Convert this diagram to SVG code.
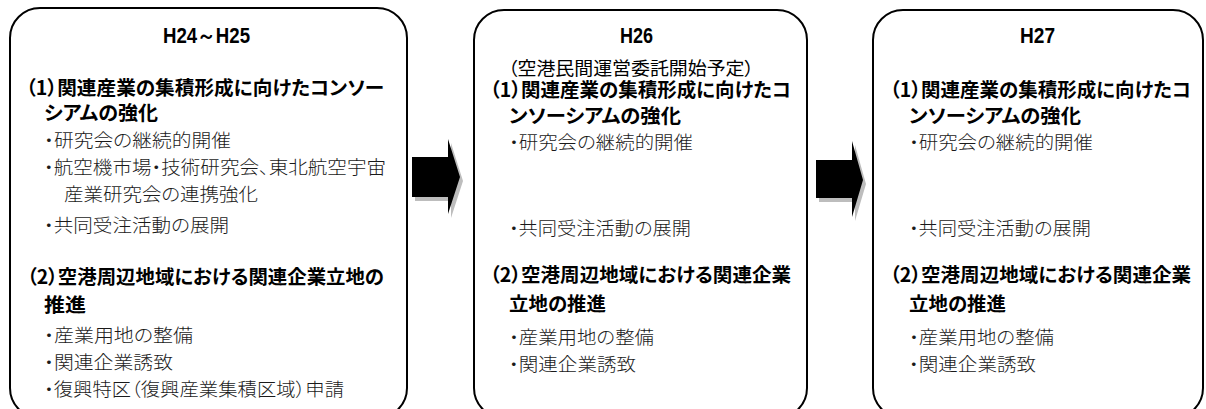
<svg xmlns="http://www.w3.org/2000/svg" width="1206" height="409" viewBox="0 0 1206 409">
<style>
.box{fill:#fff;stroke:#000;stroke-width:2}
.yr{font-family:"Liberation Sans Narrow","Liberation Sans",Arial,sans-serif;font-weight:bold;font-size:22px;fill:#000}
text{font-feature-settings:"palt" 1}
.h{font-family:"Noto Sans CJK JP",sans-serif;font-weight:bold;font-size:19.5px;fill:#000}
.b{font-family:"Noto Sans CJK JP",sans-serif;font-weight:300;font-size:18.5px;fill:#1a1a1a}
.s{font-family:"Noto Sans CJK JP",sans-serif;font-weight:400;font-size:18px;fill:#000}
.arw{fill:#000}
.shd{fill:#bdbdbd}
</style>
<rect width="1206" height="409" fill="#fff"/>
<g id="connectors">
  <g id="arrow1">
    <path class="shd" d="M415,161 H451 V143 L463,181 L451,218 V201 H415 Z"/>
    <path class="arw" d="M412,157 H448 V139 L460,177 L448,214 V197 H412 Z"/>
  </g>
  <g id="arrow2">
    <path class="shd" d="M819,164 H855 V145 L866,184 L855,221 V202 H819 Z"/>
    <path class="arw" d="M816,160 H852 V141 L863,180 L852,217 V198 H816 Z"/>
  </g>
</g>
<g id="node-h24-h25">
  <rect class="box" x="10" y="8" width="397" height="410" rx="30" ry="30"/>
  <text class="yr" x="163" y="43" textLength="87" lengthAdjust="spacingAndGlyphs">H24～H25</text>
  <text class="h" x="26" y="95" textLength="358" lengthAdjust="spacingAndGlyphs">（1）関連産業の集積形成に向けたコンソー</text>
  <text class="h" x="44" y="120" textLength="114" lengthAdjust="spacingAndGlyphs">シアムの強化</text>
  <text class="b" x="44" y="147" textLength="187" lengthAdjust="spacingAndGlyphs">・研究会の継続的開催</text>
  <text class="b" x="44" y="174" textLength="342" lengthAdjust="spacingAndGlyphs">・航空機市場・技術研究会、東北航空宇宙</text>
  <text class="b" x="64" y="201" textLength="194" lengthAdjust="spacingAndGlyphs">産業研究会の連携強化</text>
  <text class="b" x="44" y="232" textLength="185" lengthAdjust="spacingAndGlyphs">・共同受注活動の展開</text>
  <text class="h" x="27" y="284" textLength="357" lengthAdjust="spacingAndGlyphs">（2）空港周辺地域における関連企業立地の</text>
  <text class="h" x="44" y="312" textLength="42" lengthAdjust="spacingAndGlyphs">推進</text>
  <text class="b" x="44" y="342" textLength="149" lengthAdjust="spacingAndGlyphs">・産業用地の整備</text>
  <text class="b" x="44" y="369" textLength="129" lengthAdjust="spacingAndGlyphs">・関連企業誘致</text>
  <text class="b" x="44" y="396" textLength="300" lengthAdjust="spacingAndGlyphs">・復興特区（復興産業集積区域）申請</text>
</g>
<g id="node-h26">
  <rect class="box" x="474" y="10" width="333" height="408" rx="30" ry="30"/>
  <text class="yr" x="620" y="43" textLength="33" lengthAdjust="spacingAndGlyphs">H26</text>
  <text class="s" x="508" y="75" textLength="246" lengthAdjust="spacingAndGlyphs">（空港民間運営委託開始予定）</text>
  <text class="h" x="490" y="97" textLength="301" lengthAdjust="spacingAndGlyphs">（1）関連産業の集積形成に向けたコ</text>
  <text class="h" x="509" y="123" textLength="172" lengthAdjust="spacingAndGlyphs">ンソーシアムの強化</text>
  <text class="b" x="509" y="149" textLength="184" lengthAdjust="spacingAndGlyphs">・研究会の継続的開催</text>
  <text class="b" x="509" y="235" textLength="182" lengthAdjust="spacingAndGlyphs">・共同受注活動の展開</text>
  <text class="h" x="490" y="282" textLength="301" lengthAdjust="spacingAndGlyphs">（2）空港周辺地域における関連企業</text>
  <text class="h" x="509" y="311" textLength="97" lengthAdjust="spacingAndGlyphs">立地の推進</text>
  <text class="b" x="509" y="344" textLength="145" lengthAdjust="spacingAndGlyphs">・産業用地の整備</text>
  <text class="b" x="509" y="371" textLength="127" lengthAdjust="spacingAndGlyphs">・関連企業誘致</text>
</g>
<g id="node-h27">
  <rect class="box" x="873" y="10" width="330" height="408" rx="30" ry="30"/>
  <text class="yr" x="1020" y="43" textLength="35" lengthAdjust="spacingAndGlyphs">H27</text>
  <text class="h" x="890" y="97" textLength="301" lengthAdjust="spacingAndGlyphs">（1）関連産業の集積形成に向けたコ</text>
  <text class="h" x="909" y="123" textLength="172" lengthAdjust="spacingAndGlyphs">ンソーシアムの強化</text>
  <text class="b" x="909" y="149" textLength="184" lengthAdjust="spacingAndGlyphs">・研究会の継続的開催</text>
  <text class="b" x="909" y="235" textLength="182" lengthAdjust="spacingAndGlyphs">・共同受注活動の展開</text>
  <text class="h" x="890" y="282" textLength="301" lengthAdjust="spacingAndGlyphs">（2）空港周辺地域における関連企業</text>
  <text class="h" x="909" y="311" textLength="97" lengthAdjust="spacingAndGlyphs">立地の推進</text>
  <text class="b" x="909" y="344" textLength="145" lengthAdjust="spacingAndGlyphs">・産業用地の整備</text>
  <text class="b" x="909" y="371" textLength="127" lengthAdjust="spacingAndGlyphs">・関連企業誘致</text>
</g>
</svg>
